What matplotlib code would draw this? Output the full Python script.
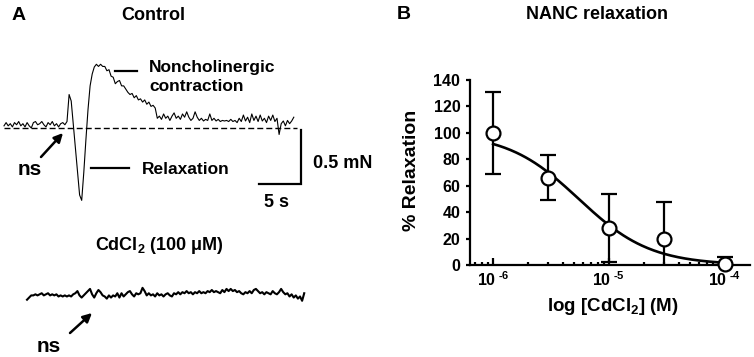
import numpy as np
import matplotlib
matplotlib.use('Agg')
import matplotlib.pyplot as plt
from matplotlib.transforms import Affine2D
from matplotlib.ticker import LogLocator, NullFormatter

plt.rcParams['font.family'] = 'Liberation Sans'
plt.rcParams['font.weight'] = 'bold'
plt.rcParams['mathtext.fontset'] = 'custom'
plt.rcParams['mathtext.rm'] = 'Liberation Sans:bold'
plt.rcParams['mathtext.it'] = 'Liberation Sans:bold'
plt.rcParams['mathtext.bf'] = 'Liberation Sans:bold'
plt.rcParams['mathtext.default'] = 'rm'

W, H = 754, 357

# ---- panel A: tension traces, one sample every 0.25 s, force in mN ----
DT = 0.25
control_force = [
    0.02, 0.05, 0.02, 0.04, 0.01, 0.05, 0.03, 0.06, 0.02, 0.04,
    0.01, 0.05, 0.02, 0.00, 0.05, 0.06, 0.03, 0.04, 0.06, 0.03,
    0.01, 0.05, 0.03, 0.06, 0.02, 0.04, 0.01, 0.04, 0.05, 0.03,
    0.06, 0.31, 0.25, 0.03, -0.20, -0.41, -0.62, -0.67, -0.41, -0.11,
    0.17, 0.39, 0.50, 0.565, 0.59, 0.57, 0.59, 0.57, 0.57, 0.53,
    0.54, 0.48, 0.47, 0.41, 0.43, 0.44, 0.39, 0.39, 0.36, 0.33,
    0.31, 0.32, 0.28, 0.30, 0.26, 0.27, 0.24, 0.26, 0.22, 0.24,
    0.20, 0.21, 0.185, 0.09, 0.11, 0.08, 0.13, 0.09, 0.11, 0.07,
    0.11, 0.14, 0.09, 0.11, 0.08, 0.13, 0.10, 0.15, 0.10, 0.07,
    0.09, 0.15, 0.10, 0.07, 0.09, 0.065, 0.08, 0.07, 0.13, 0.07,
    0.09, 0.065, 0.08, 0.06, 0.07, 0.065, 0.07, 0.06, 0.08, 0.06,
    0.07, 0.05, 0.09, 0.06, 0.12, 0.065, 0.10, 0.05, 0.13, 0.07,
    0.11, 0.06, 0.12, 0.065, 0.09, 0.05, 0.11, 0.07, 0.12, 0.06,
    0.09, -0.06, 0.04, 0.065, 0.02, 0.07, 0.04, 0.065, 0.10,
]
cdcl2_force = [
    -0.04, -0.02, 0.00, 0.00, 0.01, 0.00, 0.01, 0.02, 0.00, 0.01,
    0.02, 0.00, 0.01, 0.00, 0.01, -0.01, 0.00, -0.01, 0.00, -0.01,
    0.00, -0.01, 0.01, 0.02, 0.04, 0.00, -0.02, 0.00, 0.02, 0.04,
    0.06, 0.01, -0.02, 0.02, 0.05, 0.03, 0.00, -0.01, -0.03, 0.00,
    -0.02, 0.00, -0.01, 0.02, -0.02, 0.02, -0.01, 0.01, 0.03, 0.04,
    0.01, -0.01, 0.02, 0.01, 0.02, 0.07, 0.04, 0.00, 0.02, 0.00,
    0.01, -0.01, 0.02, 0.00, 0.01, -0.01, 0.01, 0.02, 0.00, -0.01,
    0.02, 0.01, 0.03, 0.01, 0.03, 0.02, 0.04, 0.02, 0.03, 0.01,
    0.03, 0.02, 0.04, 0.02, 0.03, 0.02, 0.04, 0.03, 0.05, 0.03,
    0.04, 0.03, 0.02, 0.05, 0.03, 0.06, 0.04, 0.06, 0.04, 0.05,
    0.03, 0.04, 0.02, 0.01, 0.03, 0.02, 0.04, 0.02, 0.05, 0.06,
    0.04, 0.02, 0.03, 0.01, 0.03, 0.02, 0.01, 0.04, 0.02, 0.01,
    0.03, 0.06, 0.03, 0.01, 0.02, -0.01, 0.01, -0.02, 0.00, -0.03,
    -0.01, -0.05, 0.02,
]
cdcl2_start_s = 2.74      # trace shift to the right
cdcl2_offset_mn = -1.55   # trace drawn lower
scale_t, scale_f = 5, 0.5  # scale bar: 5 s, 0.5 mN

# ---- panel B: NANC relaxation vs CdCl2 concentration ----
conc = [1e-6, 3e-6, 1e-5, 3e-5, 1e-4]
relax_mean = [100, 66, 28, 20, 0.5]
relax_sem = [31, 17, 26, 28, 5.5]
fit_top, fit_bottom, fit_logic50, fit_hill = 100.0, 0.0, -5.26, 1.40
xtick_labels = [r'$10^{\text{ -6}}$', r'$10^{\text{ -5}}$', r'$10^{\text{ -4}}$']

fig = plt.figure(figsize=(W / 100, H / 100), dpi=100)
px = Affine2D().scale(1.0 / W, -1.0 / H).translate(0, 1) + fig.transFigure

# panel A axes: 8.4 px per s, 108 px per mN, origin at (4, 128) px
ax_a = fig.add_axes([0, 0, 380 / W, 1])
ax_a.axis('off')
ax_a.set_xlim(-4 / 8.4, 376 / 8.4)
ax_a.set_ylim((128 - 357) / 108, 128 / 108)

t_ctrl = np.arange(len(control_force)) * DT
ax_a.plot(t_ctrl, control_force, color='black', lw=0.8)
ax_a.plot([0, 34.9], [0, 0], color='black', lw=1.0, ls=(0, (4.3, 2.2)))

t_cd = cdcl2_start_s + np.arange(len(cdcl2_force)) * DT
ax_a.plot(t_cd, np.array(cdcl2_force) + cdcl2_offset_mn, color='black', lw=1.5)

bar_x, bar_y = 35.36, -0.52
ax_a.plot([bar_x - scale_t, bar_x, bar_x], [bar_y, bar_y, bar_y + scale_f],
          color='black', lw=1.6, solid_joinstyle='miter')

# labels and leaders of panel A
txt = dict(transform=px, color='black', fontweight='bold')
ax_a.text(12, 20, 'A', fontsize=14, ha='left', va='baseline', **txt)
ax_a.text(153, 20, 'Control', fontsize=13, ha='center', va='baseline', **txt)
ax_a.plot([115, 137], [71, 71], color='black', lw=1.6, transform=px)
ax_a.text(149, 72, 'Noncholinergic', fontsize=12.5, ha='left', va='baseline', **txt)
ax_a.text(149, 91, 'contraction', fontsize=12.5, ha='left', va='baseline', **txt)
ax_a.plot([91, 129], [168, 168], color='black', lw=1.6, transform=px)
ax_a.text(142, 174, 'Relaxation', fontsize=12.5, ha='left', va='baseline', **txt)
ax_a.text(18, 175, 'ns', fontsize=15, ha='left', va='baseline', **txt)
ax_a.text(313, 168, '0.5 mN', fontsize=13, ha='left', va='baseline', **txt)
ax_a.text(277, 207, '5 s', fontsize=13, ha='center', va='baseline', **txt)
ax_a.text(95, 250, r'CdCl$_2$ (100 μM)', fontsize=13, ha='left', va='baseline', **txt)
ax_a.text(37, 352, 'ns', fontsize=15, ha='left', va='baseline', **txt)

arrow = dict(arrowstyle='-|>', color='black', lw=1.8, mutation_scale=13,
             shrinkA=0, shrinkB=0)
ax_a.annotate('', xy=(63, 133), xytext=(41, 157), xycoords=px, textcoords=px,
              arrowprops=arrow)
ax_a.annotate('', xy=(92, 313), xytext=(70, 333), xycoords=px, textcoords=px,
              arrowprops=arrow)

# panel B
ax_b = fig.add_axes([470 / W, 1 - 265 / H, 280 / W, 185 / H])
ax_b.set_xscale('log')
ax_b.set_xlim(10 ** -6.2, 10 ** -3.78)
ax_b.set_ylim(0, 140)

x_fit = np.logspace(-6, -4, 200)
y_fit = fit_bottom + (fit_top - fit_bottom) / (
    1 + 10 ** ((np.log10(x_fit) - fit_logic50) * fit_hill))

ax_b.errorbar(conc, relax_mean, yerr=relax_sem, fmt='none', ecolor='black',
              elinewidth=1.6, capsize=5.6, capthick=1.6, zorder=2)
ax_b.plot(x_fit, y_fit, color='black', lw=1.9, zorder=3)
ax_b.plot(conc, relax_mean, 'o', ms=10, mfc='white', mec='black', mew=1.6,
          clip_on=False, zorder=4)

for s in ['top', 'right']:
    ax_b.spines[s].set_visible(False)
for s in ['left', 'bottom']:
    ax_b.spines[s].set_linewidth(1.6)

ax_b.set_yticks(np.arange(0, 141, 20))
ax_b.set_xticks([1e-6, 1e-5, 1e-4])
ax_b.set_xticklabels(xtick_labels)
ax_b.xaxis.set_minor_locator(LogLocator(base=10, subs=np.arange(2, 10)))
ax_b.xaxis.set_minor_formatter(NullFormatter())
ax_b.tick_params(axis='y', direction='out', length=3, width=1.6, labelsize=11.5, pad=4)
ax_b.tick_params(axis='x', which='major', direction='in', length=5, width=1.6,
                 labelsize=11.5, pad=4)
ax_b.tick_params(axis='x', which='minor', direction='in', length=2.5, width=1.6)
for lab in ax_b.get_xticklabels() + ax_b.get_yticklabels():
    lab.set_fontweight('bold')

ax_b.set_ylabel('% Relaxation', fontsize=14, fontweight='bold')
ax_b.yaxis.set_label_coords(-0.179, 0.514)
ax_b.set_xlabel(r'log [CdCl$_2$] (M)', fontsize=13.5, fontweight='bold')
ax_b.xaxis.set_label_coords(0.51, -0.17)

ax_a.text(397, 19, 'B', fontsize=14, ha='left', va='baseline', **txt)
ax_a.text(597, 19, 'NANC relaxation', fontsize=13, ha='center', va='baseline', **txt)

fig.savefig('out.png', dpi=100)
